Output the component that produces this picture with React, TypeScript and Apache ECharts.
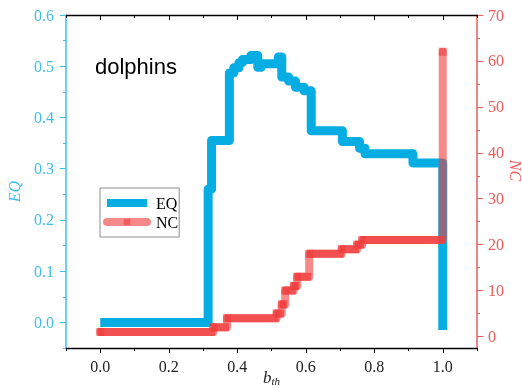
import React, { useEffect, useRef } from "react";
import * as echarts from "echarts";

// b_th where each new EQ value starts, and that value
const EQ_BREAK_X = [0, 0.315, 0.325, 0.377, 0.39, 0.405, 0.415, 0.44, 0.46, 0.47, 0.52, 0.53, 0.55, 0.57, 0.595, 0.616, 0.707, 0.757, 0.773, 0.913, 1.0];
const EQ_VALUES = [0.0, 0.26, 0.355, 0.487, 0.497, 0.507, 0.513, 0.521, 0.498, 0.505, 0.518, 0.479, 0.471, 0.459, 0.452, 0.374, 0.353, 0.34, 0.329, 0.311, -0.015];

// b_th where each new NC value starts, and that value
const NC_BREAK_X = [0, 0.33, 0.37, 0.515, 0.53, 0.54, 0.565, 0.575, 0.61, 0.705, 0.75, 0.765, 1.0];
const NC_VALUES = [1, 2, 4, 5, 7, 10, 11, 13, 18, 19, 20, 21, 62];

const X_MAJOR = [0, 0.2, 0.4, 0.6, 0.8, 1.0];
const X_MINOR = [-0.1, 0.1, 0.3, 0.5, 0.7, 0.9, 1.1];
const EQ_MAJOR = [0, 0.1, 0.2, 0.3, 0.4, 0.5, 0.6];
const EQ_MINOR = [-0.05, 0.05, 0.15, 0.25, 0.35, 0.45, 0.55];
const NC_MAJOR = [0, 10, 20, 30, 40, 50, 60, 70];
const NC_MINOR = [5, 15, 25, 35, 45, 55, 65];

const EQ_COLOR = "#06ade2";
const EQ_AXIS = "#3dbfec";
const NC_AXIS = "#f05a5a";
const NC_LIGHT = "rgba(240,60,60,0.6)";
const NC_DARK = "rgba(240,60,60,0.75)";
const SERIF = "Liberation Serif";

const eqData = EQ_BREAK_X.map((x, i) => [x, EQ_VALUES[i]]);
const ncData = NC_BREAK_X.map((x, i) => [x, NC_VALUES[i]]);
const ncSegments = NC_BREAK_X.slice(0, -1).map((x, i) => [x, NC_BREAK_X[i + 1], NC_VALUES[i]]);

const tickLabel = (color: string) => ({
  fontFamily: SERIF,
  fontSize: 16,
  color,
});

const baseX = {
  type: "value",
  min: -0.1,
  max: 1.1,
  splitLine: { show: false },
};

const option: any = {
  animation: false,
  grid: { left: 66, right: 45, top: 15, bottom: 40, outerBoundsMode: "none", containLabel: false },
  graphic: [
    {
      type: "text",
      left: 95,
      top: 55,
      style: { text: "dolphins", fontFamily: "Liberation Sans", fontSize: 22, fill: "#000" },
    },
  ],
  legend: {
    data: ["EQ", "NC"],
    orient: "vertical",
    left: 100,
    top: 188,
    padding: [7, 1, 7, 3],
    itemGap: 3,
    itemWidth: 40,
    itemHeight: 8,
    backgroundColor: "#fff",
    borderColor: "#8c8c8c",
    borderWidth: 1,
    borderRadius: 0,
    selectedMode: false,
    lineStyle: { width: 8 },
    textStyle: { fontFamily: SERIF, fontSize: 16, color: "#000", padding: [0, 0, 0, 4] },
  },
  xAxis: [
    {
      ...baseX,
      position: "bottom",
      axisLine: { onZero: false, lineStyle: { color: "#000", width: 1.3 } },
      axisTick: { customValues: X_MAJOR, length: 5, lineStyle: { color: "#000" } },
      axisLabel: {
        customValues: X_MAJOR,
        margin: 10,
        formatter: (v: number) => v.toFixed(1),
        ...tickLabel("#222"),
      },
      name: "{i|b}{s|th}",
      nameLocation: "middle",
      nameGap: 21,
      nameMoveOverlap: false,
      nameTextStyle: {
        color: "#222",
        rich: {
          i: { fontFamily: SERIF, fontStyle: "italic", fontSize: 17, lineHeight: 17, verticalAlign: "top", color: "#222" },
          s: { fontFamily: SERIF, fontStyle: "italic", fontSize: 11, lineHeight: 17, verticalAlign: "bottom", color: "#222" },
        },
      },
    },
    {
      ...baseX,
      position: "bottom",
      axisLine: { show: false, onZero: false },
      axisTick: { customValues: X_MINOR, length: 3, lineStyle: { color: "#000" } },
      axisLabel: { show: false },
    },
    {
      ...baseX,
      position: "top",
      axisLine: { onZero: false, lineStyle: { color: "#000", width: 1.3 } },
      axisTick: { inside: true, customValues: X_MAJOR, length: 5, lineStyle: { color: "#000" } },
      axisLabel: { show: false },
    },
    {
      ...baseX,
      position: "top",
      axisLine: { show: false, onZero: false },
      axisTick: { inside: true, customValues: X_MINOR, length: 3, lineStyle: { color: "#000" } },
      axisLabel: { show: false },
    },
  ],
  yAxis: [
    {
      type: "value",
      min: -0.05,
      max: 0.6,
      position: "left",
      splitLine: { show: false },
      axisLine: { show: true, onZero: false, lineStyle: { color: EQ_AXIS, width: 1.5 } },
      axisTick: { show: true, customValues: EQ_MAJOR, length: 6, lineStyle: { color: EQ_AXIS } },
      axisLabel: { customValues: EQ_MAJOR, margin: 12, formatter: (v: number) => v.toFixed(1), ...tickLabel(EQ_AXIS) },
      name: "EQ",
      nameLocation: "middle",
      nameGap: 44,
      nameMoveOverlap: false,
      nameRotate: 90,
      nameTextStyle: { fontFamily: SERIF, fontStyle: "italic", fontSize: 16, color: EQ_AXIS, padding: [0, 20, 0, 0] },
    },
    {
      type: "value",
      min: -2.5,
      max: 70,
      position: "right",
      splitLine: { show: false },
      axisLine: { show: true, onZero: false, lineStyle: { color: NC_AXIS, width: 1.5 } },
      axisTick: { show: true, customValues: NC_MAJOR, length: 6, lineStyle: { color: NC_AXIS } },
      axisLabel: { customValues: NC_MAJOR, margin: 11, formatter: (v: number) => String(Math.round(v)), ...tickLabel(NC_AXIS) },
      name: "NC",
      nameLocation: "middle",
      nameGap: 30,
      nameMoveOverlap: false,
      nameRotate: -90,
      nameTextStyle: { fontFamily: SERIF, fontStyle: "italic", fontSize: 16, color: NC_AXIS, padding: [0, 22, 0, 0] },
    },
    {
      type: "value",
      min: -0.05,
      max: 0.6,
      position: "left",
      splitLine: { show: false },
      axisLine: { show: false, onZero: false },
      axisTick: { show: true, customValues: EQ_MINOR, length: 3, lineStyle: { color: EQ_AXIS } },
      axisLabel: { show: false },
    },
    {
      type: "value",
      min: -2.5,
      max: 70,
      position: "right",
      splitLine: { show: false },
      axisLine: { show: false, onZero: false },
      axisTick: { show: true, customValues: NC_MINOR, length: 3, lineStyle: { color: NC_AXIS } },
      axisLabel: { show: false },
    },
  ],
  series: [
    {
      name: "EQ",
      type: "line",
      xAxisIndex: 0,
      yAxisIndex: 0,
      step: "end",
      data: eqData,
      symbol: "none",
      color: EQ_COLOR,
      lineStyle: { color: EQ_COLOR, width: 9, join: "round", cap: "butt" },
      itemStyle: { color: EQ_COLOR },
      z: 2,
    },
    {
      name: "NC",
      type: "line",
      xAxisIndex: 0,
      yAxisIndex: 1,
      step: "end",
      data: ncData,
      symbol: "rect",
      symbolSize: 8,
      color: NC_LIGHT,
      lineStyle: { color: NC_LIGHT, width: 8, join: "round", cap: "round" },
      itemStyle: { color: NC_LIGHT },
      z: 3,
    },
    {
      name: "NC segments",
      type: "custom",
      xAxisIndex: 0,
      yAxisIndex: 1,
      data: ncSegments,
      encode: { x: [0, 1], y: 2 },
      z: 4,
      renderItem: (_params: any, api: any) => {
        const a = api.coord([api.value(0), api.value(2)]);
        const b = api.coord([api.value(1), api.value(2)]);
        return {
          type: "rect",
          shape: { x: a[0] - 2, y: a[1] - 4, width: b[0] - a[0] + 4, height: 8 },
          style: { fill: NC_DARK },
        };
      },
    },
  ],
};

export default function App() {
  const ref = useRef<HTMLDivElement>(null);
  useEffect(() => {
    const chart = echarts.init(ref.current!, undefined, { renderer: "svg" });
    chart.setOption(option);
    return () => chart.dispose();
  }, []);
  return <div ref={ref} style={{ position: "fixed", left: 0, top: 0, width: 522, height: 388 }} />;
}
